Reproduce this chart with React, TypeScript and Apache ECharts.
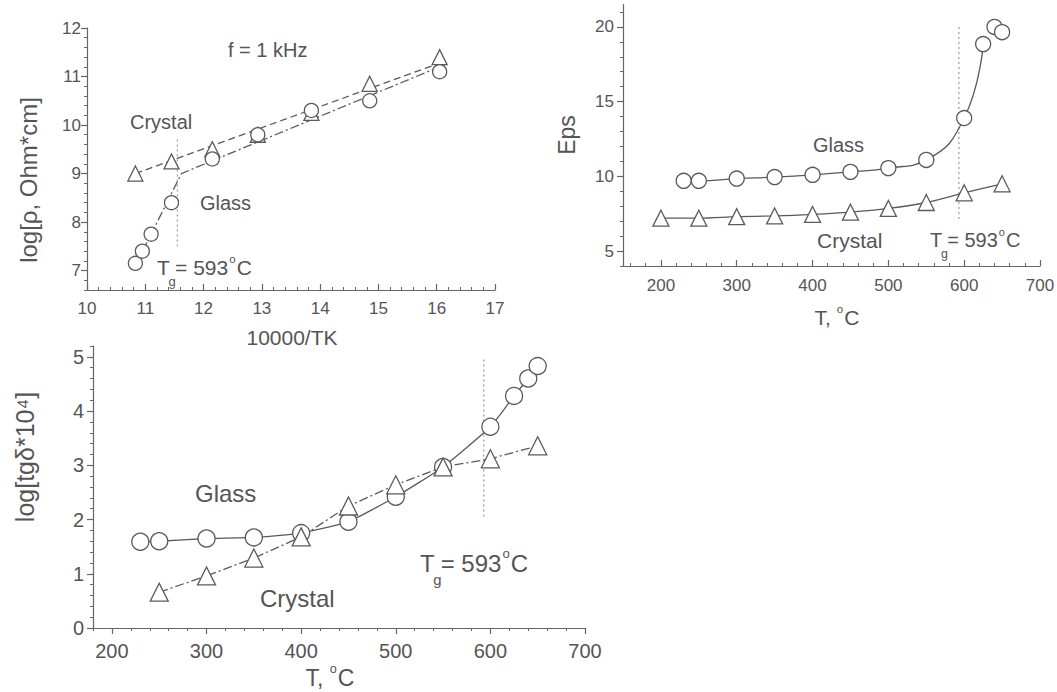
import React, { useEffect, useRef } from "react";
import * as echarts from "echarts";

// ---------- Panel 1: log(rho) vs 10000/T ----------
const rhoGlassX = [10.83, 10.95, 11.1, 11.45, 12.15, 12.93, 13.85, 14.85, 16.05];
const rhoGlassY = [7.15, 7.4, 7.75, 8.4, 9.3, 9.8, 10.3, 10.5, 11.1];
const rhoCrystalX = [10.83, 11.45, 12.15, 12.93, 13.85, 14.85, 16.05];
const rhoCrystalY = [9.0, 9.25, 9.5, 9.8, 10.25, 10.85, 11.4];
const rhoGlassFitX = [10.83, 11.62, 16.15];
const rhoGlassFitY = [7.1, 9.0, 11.25];
const rhoCrystalFitX = [10.83, 16.15];
const rhoCrystalFitY = [9.0, 11.32];
const rhoTgX = [11.55, 11.55];
const rhoTgY = [9.7, 7.5];
const rhoXTicks = [10, 11, 12, 13, 14, 15, 16, 17];
const rhoYTicks = [7, 8, 9, 10, 11, 12];

// ---------- Panel 2: Eps vs T ----------
const epsGlassT = [230, 250, 300, 350, 400, 450, 500, 550, 600, 625, 640, 650];
const epsGlass = [9.7, 9.7, 9.85, 9.95, 10.1, 10.3, 10.55, 11.1, 13.9, 18.85, 20.0, 19.65];
const epsGlassCurveCount = 10; // fitted curve ends at 625 °C
const epsCrystalT = [200, 250, 300, 350, 400, 450, 500, 550, 600, 650];
const epsCrystal = [7.2, 7.2, 7.3, 7.35, 7.45, 7.6, 7.85, 8.25, 8.9, 9.5];
const epsTgX = [593, 593];
const epsTgY = [20, 7];
const epsXTicks = [200, 300, 400, 500, 600, 700];
const epsYTicks = [5, 10, 15, 20];

// ---------- Panel 3: log(tg delta * 1e4) vs T ----------
const tgGlassT = [230, 250, 300, 350, 400, 450, 500, 550, 600, 625, 640, 650];
const tgGlass = [1.59, 1.6, 1.65, 1.67, 1.75, 1.96, 2.42, 2.97, 3.71, 4.28, 4.6, 4.83];
const tgCrystalT = [250, 300, 350, 400, 450, 500, 550, 600, 650];
const tgCrystal = [0.66, 0.96, 1.29, 1.68, 2.25, 2.64, 2.97, 3.12, 3.36];
const tgTgX = [593, 593];
const tgTgY = [4.95, 2.0];
const tgXTicks = [200, 300, 400, 500, 600, 700];
const tgYTicks = [0, 1, 2, 3, 4, 5];

const INK = "#555";
const LINE = "#5a5a5a";
const AXIS = "#666";
const FONT = "'Liberation Sans', Arial, sans-serif";

const zip = (xs: number[], ys: number[]) => xs.map((x, i) => [x, ys[i]]);
const steps = (a: number, b: number, s: number) => {
  const out: number[] = [];
  const n = Math.round((b - a) / s);
  for (let i = 0; i <= n; i++) out.push(Math.round((a + i * s) * 1000) / 1000);
  return out;
};

let measureCtx: CanvasRenderingContext2D | null = null;
function measure(s: string, f: number) {
  if (!measureCtx) measureCtx = document.createElement("canvas").getContext("2d");
  if (!measureCtx) return s.length * f * 0.55;
  measureCtx.font = `${f}px ${FONT}`;
  return measureCtx.measureText(s).width;
}

function axisPair(
  kind: "x" | "y",
  grid: number,
  min: number,
  max: number,
  majors: number[],
  minors: number[],
  fontSize: number,
  margin: number,
  inside: boolean
) {
  const main = {
    type: "value",
    gridIndex: grid,
    min,
    max,
    position: kind === "x" ? "bottom" : "left",
    axisLine: { show: true, onZero: false, lineStyle: { color: AXIS, width: 1.2 } },
    axisTick: { show: true, inside, length: 3, customValues: minors, lineStyle: { color: AXIS } },
    axisLabel: { show: false },
    splitLine: { show: false },
  };
  const major = {
    type: "value",
    gridIndex: grid,
    min,
    max,
    position: kind === "x" ? "bottom" : "left",
    axisLine: { show: false, onZero: false },
    axisTick: { show: true, inside, length: 6, customValues: majors, lineStyle: { color: AXIS, width: 1.2 } },
    axisLabel: {
      show: true,
      customValues: majors,
      margin,
      color: INK,
      fontSize,
      fontFamily: FONT,
    },
    splitLine: { show: false },
  };
  return [main, major];
}

function txt(x: number, y: number, text: string, size: number, opts: any = {}) {
  return {
    type: "text",
    x,
    y,
    rotation: opts.rotation || 0,
    silent: true,
    style: {
      text,
      fill: INK,
      fontSize: size,
      fontFamily: FONT,
      textAlign: opts.align || "left",
      align: opts.align || "left",
      textVerticalAlign: "middle",
      verticalAlign: "middle",
    },
  };
}

function tgLabel(x: number, y: number, f: number) {
  const tW = measure("T", f);
  const eqX = x + tW + 0.25 * f;
  const oX = eqX + measure("= 593", f) + 1;
  const cX = oX + measure("o", 0.55 * f) + 1;
  return [
    txt(x, y, "T", f),
    txt(x + tW * 0.9, y + 0.7 * f, "g", 0.62 * f),
    txt(eqX, y, "= 593", f),
    txt(oX, y - 0.4 * f, "o", 0.55 * f),
    txt(cX, y, "C", f),
  ];
}

function degreeTitle(cx: number, y: number, f: number) {
  const a = measure("T, ", f);
  const o = measure("o", 0.55 * f);
  const c = measure("C", f);
  const total = a + o + 1 + c;
  const left = cx - total / 2;
  return [
    txt(left, y, "T,", f),
    txt(left + a, y - 0.4 * f, "o", 0.55 * f),
    txt(left + a + o + 1, y, "C", f),
  ];
}

export default function App() {
  const ref = useRef<HTMLDivElement>(null);

  useEffect(() => {
    if (!ref.current) return;
    const chart = echarts.init(ref.current, undefined, { renderer: "svg" });

    const [x0, x0m] = axisPair("x", 0, 10, 17, rhoXTicks, steps(10, 17, 0.2), 17, 10, true);
    const [y0, y0m] = axisPair("y", 0, 6.6, 12, rhoYTicks, steps(6.6, 12, 0.2), 17, 6, false);
    const [x1, x1m] = axisPair("x", 1, 150, 700, epsXTicks, steps(160, 700, 20), 17, 11, true);
    const [y1, y1m] = axisPair("y", 1, 4, 21.5, epsYTicks, steps(4, 21, 1), 17, 9, false);
    const [x2, x2m] = axisPair("x", 2, 180, 700, tgXTicks, steps(180, 700, 20), 20, 13, false);
    const [y2, y2m] = axisPair("y", 2, 0, 5.2, tgYTicks, steps(0, 5.2, 0.2), 20, 9, false);

    const lineS = (xi: number, data: number[][], type: any, smooth: any = false) => ({
      type: "line",
      xAxisIndex: xi,
      yAxisIndex: xi,
      data,
      smooth,
      symbol: "none",
      lineStyle: { color: LINE, width: 1.3, type },
      silent: true,
      z: 2,
    });
    const markS = (xi: number, data: number[][], symbol: string, size: number) => ({
      type: "scatter",
      xAxisIndex: xi,
      yAxisIndex: xi,
      data,
      symbol,
      symbolSize: size,
      itemStyle: { color: "#ffffff", borderColor: LINE, borderWidth: 1.3, opacity: 1 },
      silent: true,
      z: 3,
    });
    const tgS = (xi: number, xs: number[], ys: number[]) => ({
      type: "line",
      xAxisIndex: xi,
      yAxisIndex: xi,
      data: zip(xs, ys),
      symbol: "none",
      lineStyle: { color: "#999", width: 1.2, type: [2, 3] },
      silent: true,
      z: 1,
    });

    const dash = [7, 4];
    const dashDot = [9, 3, 2, 3];

    chart.setOption({
      animation: false,
      backgroundColor: "#fff",
      grid: [
        { left: 87, top: 28, width: 408, height: 262, containLabel: false, outerBoundsMode: "none" },
        { left: 623, top: 4.5, width: 417, height: 261.5, containLabel: false, outerBoundsMode: "none" },
        { left: 93, top: 346, width: 492, height: 282, containLabel: false, outerBoundsMode: "none" },
      ],
      xAxis: [x0, x0m, x1, x1m, x2, x2m],
      yAxis: [y0, y0m, y1, y1m, y2, y2m],
      series: [
        // panel 1 (axis index 0)
        tgS(0, rhoTgX, rhoTgY),
        lineS(0, zip(rhoCrystalFitX, rhoCrystalFitY), dash),
        lineS(0, zip(rhoGlassFitX, rhoGlassFitY), dashDot),
        markS(0, zip(rhoCrystalX, rhoCrystalY), "triangle", 15),
        markS(0, zip(rhoGlassX, rhoGlassY), "circle", 14),
        // panel 2 (axis index 2)
        tgS(2, epsTgX, epsTgY),
        lineS(2, zip(epsGlassT, epsGlass).slice(0, epsGlassCurveCount), "solid", true),
        lineS(2, zip(epsCrystalT, epsCrystal), "solid", 0.3),
        markS(2, zip(epsGlassT, epsGlass), "circle", 15),
        markS(2, zip(epsCrystalT, epsCrystal), "triangle", 16),
        // panel 3 (axis index 4)
        tgS(4, tgTgX, tgTgY),
        lineS(4, zip(tgGlassT, tgGlass), "solid", 0.15),
        lineS(4, zip(tgCrystalT, tgCrystal), dashDot),
        markS(4, zip(tgGlassT, tgGlass), "circle", 17),
        markS(4, zip(tgCrystalT, tgCrystal), "triangle", 18),
      ],
      graphic: [
        // panel 1 texts
        txt(228, 50, "f = 1 kHz", 20),
        txt(130, 122, "Crystal", 20),
        txt(200, 203, "Glass", 20),
        ...tgLabel(157, 267, 21),
        txt(28, 180, "log[ρ, Ohm*cm]", 24, { rotation: Math.PI / 2, align: "center" }),
        txt(292, 337, "10000/TK", 21, { align: "center" }),
        // panel 2 texts
        txt(567, 135, "Eps", 23, { rotation: Math.PI / 2, align: "center" }),
        txt(813, 145, "Glass", 20),
        txt(817, 240, "Crystal", 21),
        ...tgLabel(930, 240, 20),
        ...degreeTitle(837, 317, 21),
        // panel 3 texts
        txt(25, 457, "log[tgδ*10⁴]", 25, { rotation: Math.PI / 2, align: "center" }),
        txt(195, 493, "Glass", 24),
        txt(260, 598, "Crystal", 24),
        ...tgLabel(420, 563, 24),
        ...degreeTitle(330, 678, 23),
      ],
    });

    return () => chart.dispose();
  }, []);

  return (
    <div
      ref={ref}
      style={{ position: "absolute", left: 0, top: 0, width: 1057, height: 692, background: "#fff" }}
    />
  );
}
